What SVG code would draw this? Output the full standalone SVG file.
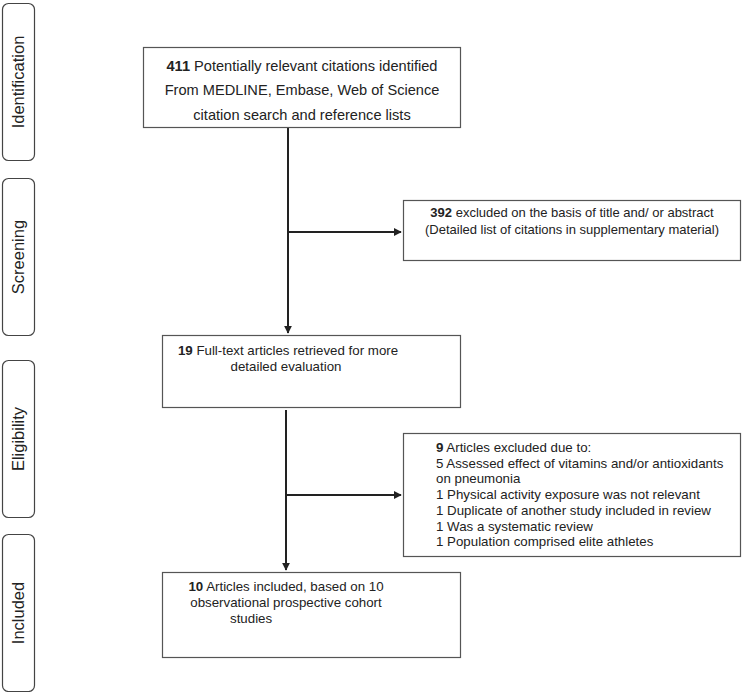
<svg xmlns="http://www.w3.org/2000/svg" width="748" height="692" viewBox="0 0 748 692">
<style>
.phase{fill:#fff;stroke:#444;stroke-width:1.2}
.box{fill:#fff;stroke:#555;stroke-width:1.2}
.t{font-family:"Liberation Sans",Arial,sans-serif;font-size:13.3px;fill:#222}
.t1{font-size:14.6px}
.t2{font-size:13px}
.pt{font-family:"Liberation Sans",Arial,sans-serif;font-size:16.5px;fill:#222}
.c{text-anchor:middle}
.edge{stroke:#222;stroke-width:2;fill:none}
.b{font-weight:bold}
</style>
<defs>
<marker id="arr" viewBox="0 0 10 10" refX="9" refY="5" markerWidth="4" markerHeight="4" orient="auto" markerUnits="strokeWidth">
<path d="M0,0 L10,5 L0,10 z" fill="#222"/>
</marker>
</defs>
<g id="phase-identification"><rect class="phase" x="2.5" y="3.5" width="32" height="157" rx="6"/><text class="pt c" transform="translate(24,82) rotate(-90)">Identification</text></g>
<g id="phase-screening"><rect class="phase" x="2.5" y="178.5" width="32" height="157" rx="6"/><text class="pt c" transform="translate(24,257) rotate(-90)">Screening</text></g>
<g id="phase-eligibility"><rect class="phase" x="2.5" y="360.5" width="32" height="157" rx="6"/><text class="pt c" transform="translate(24,439) rotate(-90)">Eligibility</text></g>
<g id="phase-included"><rect class="phase" x="2.5" y="534.5" width="32" height="157" rx="6"/><text class="pt c" transform="translate(24,613) rotate(-90)">Included</text></g>

<g id="connectors">
<line class="edge" x1="288" y1="127" x2="288" y2="333" marker-end="url(#arr)"/>
<line class="edge" x1="288" y1="232" x2="401" y2="232" marker-end="url(#arr)"/>
<line class="edge" x1="286" y1="410" x2="286" y2="570" marker-end="url(#arr)"/>
<line class="edge" x1="286" y1="495" x2="401" y2="495" marker-end="url(#arr)"/>
</g>

<g id="node-identified"><rect class="box" x="143.5" y="47.5" width="317" height="80"/>
<text class="t t1 c" x="302" y="71"><tspan class="b">411</tspan> Potentially relevant citations identified</text>
<text class="t t1 c" x="302" y="95">From MEDLINE, Embase, Web of Science</text>
<text class="t t1 c" x="302" y="119.5">citation search and reference lists</text></g>

<g id="node-excluded-screening"><rect class="box" x="403.5" y="200.5" width="337" height="60"/>
<text class="t t2 c" x="572" y="217"><tspan class="b">392</tspan> excluded on the basis of title and/ or abstract</text>
<text class="t t2 c" x="572" y="234">(Detailed list of citations in supplementary material)</text></g>

<g id="node-fulltext"><rect class="box" x="162.5" y="335.5" width="298" height="72"/>
<text class="t c" x="288" y="355"><tspan class="b">19</tspan> Full-text articles retrieved for more</text>
<text class="t c" x="286" y="371">detailed evaluation</text></g>

<g id="node-excluded-eligibility"><rect class="box" x="403.5" y="433.5" width="337" height="123"/>
<text class="t" x="436" y="452"><tspan class="b">9</tspan> Articles excluded due to:</text>
<text class="t" x="436" y="467.7">5 Assessed effect of vitamins and/or antioxidants</text>
<text class="t" x="436" y="483.4">on pneumonia</text>
<text class="t" x="436" y="499.1">1 Physical activity exposure was not relevant</text>
<text class="t" x="436" y="514.8">1 Duplicate of another study included in review</text>
<text class="t" x="436" y="530.5">1 Was a systematic review</text>
<text class="t" x="436" y="546.2">1 Population comprised elite athletes</text></g>

<g id="node-included"><rect class="box" x="162.5" y="572.5" width="298" height="85"/>
<text class="t c" x="286" y="591"><tspan class="b">10</tspan> Articles included, based on 10</text>
<text class="t c" x="286" y="607">observational prospective cohort</text>
<text class="t" x="230" y="623">studies</text></g>
</svg>
